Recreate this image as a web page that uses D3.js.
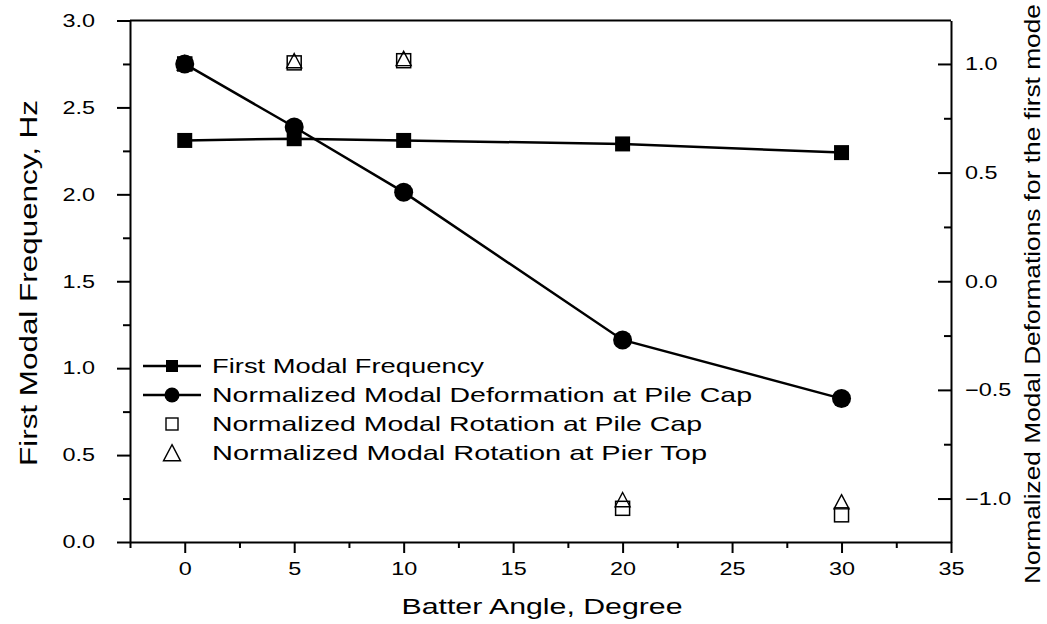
<!DOCTYPE html>
<html>
<head>
<meta charset="utf-8">
<script src="https://cdn.jsdelivr.net/npm/d3@7"></script>
<style>
  body { margin: 0; background: #fff; }
  svg { display: block; font-family: "Liberation Sans", Arial, sans-serif; }
</style>
</head>
<body>
<svg id="chart" width="1047" height="624"></svg>
<script>
// Batter angles (degrees)
const angles = [0, 5, 10, 20, 30];
// First modal frequency, Hz (left axis)
const frequency = [2.31, 2.32, 2.31, 2.29, 2.24];
// Normalized modal deformation at pile cap (right axis)
const deformPileCap = [1.0, 0.71, 0.41, -0.27, -0.54];
// Normalized modal rotation at pile cap (right axis)
const rotPileCap = [1.0, 1.005, 1.015, -1.045, -1.075];
// Normalized modal rotation at pier top (right axis)
const rotPierTop = [1.0, 1.01, 1.02, -1.01, -1.02];

const xTicks = [0, 5, 10, 15, 20, 25, 30, 35];
const leftTicks = [0.0, 0.5, 1.0, 1.5, 2.0, 2.5, 3.0];
const rightTicks = [-1.0, -0.5, 0.0, 0.5, 1.0];

const legendLabels = [
  "First Modal Frequency",
  "Normalized Modal Deformation at Pile Cap",
  "Normalized Modal Rotation at Pile Cap",
  "Normalized Modal Rotation at Pier Top"
];

const svg = d3.select("#chart");
const L = 130, R = 951, T = 20.5, B = 542;

const x = d3.scaleLinear().domain([-2.5, 35]).range([L, R]);
const yL = d3.scaleLinear().domain([0, 3]).range([B, T]);
const yR = d3.scaleLinear().domain([-1.2, 1.2]).range([B, T]);

const fmt1 = d3.format(".1f");
const axisStroke = 2;

// widen a text element horizontally along its baseline
function widen(sel, factor) {
  sel.each(function () {
    const w = this.getComputedTextLength();
    this.setAttribute("textLength", w * factor);
    this.setAttribute("lengthAdjust", "spacingAndGlyphs");
  });
}

// frame top line
svg.append("line").attr("x1", L).attr("x2", R).attr("y1", T).attr("y2", T)
  .attr("stroke", "#000").attr("stroke-width", axisStroke);

// bottom axis: major and minor ticks
const gx = svg.append("g").attr("transform", `translate(0,${B})`)
  .call(d3.axisBottom(x).tickValues(xTicks).tickSize(11).tickSizeOuter(0).tickFormat(d3.format("d")));
svg.append("g").attr("transform", `translate(0,${B})`)
  .call(d3.axisBottom(x).tickValues(d3.range(-2.5, 35, 5)).tickSize(6).tickSizeOuter(0).tickFormat(""))
  .select(".domain").remove();

// left axis
const gy = svg.append("g").attr("transform", `translate(${L},0)`)
  .call(d3.axisLeft(yL).tickValues(leftTicks).tickSize(13).tickSizeOuter(0).tickPadding(22).tickFormat(fmt1));
svg.append("g").attr("transform", `translate(${L},0)`)
  .call(d3.axisLeft(yL).tickValues(d3.range(0.25, 3, 0.5)).tickSize(7).tickSizeOuter(0).tickFormat(""))
  .select(".domain").remove();

// right axis, ticks point inward
const gr = svg.append("g").attr("transform", `translate(${R},0)`)
  .call(d3.axisRight(yR).tickValues(rightTicks).tickSize(-13).tickSizeOuter(0).tickPadding(14).tickFormat(fmt1));
svg.append("g").attr("transform", `translate(${R},0)`)
  .call(d3.axisRight(yR).tickValues(d3.range(-1.25, 1.2, 0.5).filter(v => v > -1.2)).tickSize(-7).tickSizeOuter(0).tickFormat(""))
  .select(".domain").remove();

svg.selectAll(".domain").attr("stroke-width", axisStroke);
svg.selectAll(".tick line").attr("stroke-width", axisStroke);
svg.selectAll(".tick text").attr("font-size", 18).attr("fill", "#000")
  .style("font-family", "'Liberation Sans', Arial, sans-serif");
gx.selectAll(".tick text").attr("dy", "1.05em");
widen(svg.selectAll(".tick text"), 1.3);
// keep anchors: re-anchor stretched labels
gy.selectAll(".tick text").attr("text-anchor", "end");

// axis titles
const xTitle = svg.append("text").attr("x", 542).attr("y", 614).attr("text-anchor", "middle")
  .attr("font-size", 22).text("Batter Angle, Degree");
xTitle.attr("textLength", 281).attr("lengthAdjust", "spacingAndGlyphs");
svg.append("text").attr("transform", `translate(37,283) rotate(-90)`)
  .attr("text-anchor", "middle").attr("font-size", 23).text("First Modal Frequency, Hz")
  .attr("textLength", 366).attr("lengthAdjust", "spacingAndGlyphs");
svg.append("text").attr("transform", `translate(1040,294) rotate(-90)`)
  .attr("text-anchor", "middle").attr("font-size", 22).text("Normalized Modal Deformations for the first mode")
  .attr("textLength", 580).attr("lengthAdjust", "spacingAndGlyphs");

const plot = svg.append("g");
const lineW = 2.5;

// frequency line
plot.append("path").datum(angles.map((a, i) => [a, frequency[i]]))
  .attr("fill", "none").attr("stroke", "#000").attr("stroke-width", lineW)
  .attr("d", d3.line().x(d => x(d[0])).y(d => yL(d[1])));
// deformation line
plot.append("path").datum(angles.map((a, i) => [a, deformPileCap[i]]))
  .attr("fill", "none").attr("stroke", "#000").attr("stroke-width", lineW)
  .attr("d", d3.line().x(d => x(d[0])).y(d => yR(d[1])));

const sqSize = 15, circR = 9.5, hollowSq = 14, triW = 15;
const triPath = w => `M0,${-w * 0.55}L${w / 2},${w * 0.4}L${-w / 2},${w * 0.4}Z`;

// hollow rotation markers
plot.selectAll(".rotCap").data(angles.map((a, i) => [a, rotPileCap[i]])).join("rect")
  .attr("x", d => x(d[0]) - hollowSq / 2).attr("y", d => yR(d[1]) - hollowSq / 2)
  .attr("width", hollowSq).attr("height", hollowSq)
  .attr("fill", "#fff").attr("stroke", "#000").attr("stroke-width", 1.5);
plot.selectAll(".rotTop").data(angles.map((a, i) => [a, rotPierTop[i]])).join("path")
  .attr("transform", d => `translate(${x(d[0])},${yR(d[1])})`)
  .attr("d", triPath(triW))
  .attr("fill", "none").attr("stroke", "#000").attr("stroke-width", 1.4);

// filled markers
plot.selectAll(".freq").data(angles.map((a, i) => [a, frequency[i]])).join("rect")
  .attr("x", d => x(d[0]) - sqSize / 2).attr("y", d => yL(d[1]) - sqSize / 2)
  .attr("width", sqSize).attr("height", sqSize).attr("fill", "#000");
plot.selectAll(".def").data(angles.map((a, i) => [a, deformPileCap[i]])).join("circle")
  .attr("cx", d => x(d[0])).attr("cy", d => yR(d[1])).attr("r", circR).attr("fill", "#000");

// legend
const lg = svg.append("g");
const rowsY = [366, 395, 424, 453], symX = 172, textX = 212;
const legendWidths = [272, 540, 490, 495];
legendLabels.forEach((lab, i) => {
  const y = rowsY[i];
  if (i < 2) {
    lg.append("line").attr("x1", 143).attr("x2", 201).attr("y1", y).attr("y2", y)
      .attr("stroke", "#000").attr("stroke-width", lineW);
  }
  if (i === 0) lg.append("rect").attr("x", symX - 6).attr("y", y - 6).attr("width", 12).attr("height", 12).attr("fill", "#000");
  if (i === 1) lg.append("circle").attr("cx", symX).attr("cy", y).attr("r", 7.5).attr("fill", "#000");
  if (i === 2) lg.append("rect").attr("x", symX - 6).attr("y", y - 6).attr("width", 12).attr("height", 12)
    .attr("fill", "none").attr("stroke", "#000").attr("stroke-width", 1.4);
  if (i === 3) lg.append("path").attr("transform", `translate(${symX},${y + 1})`).attr("d", triPath(17))
    .attr("fill", "none").attr("stroke", "#000").attr("stroke-width", 1.4);
  lg.append("text").attr("x", textX).attr("y", y).attr("dy", "0.35em").attr("font-size", 21).text(lab)
    .attr("textLength", legendWidths[i]).attr("lengthAdjust", "spacingAndGlyphs");
});
</script>
</body>
</html>
